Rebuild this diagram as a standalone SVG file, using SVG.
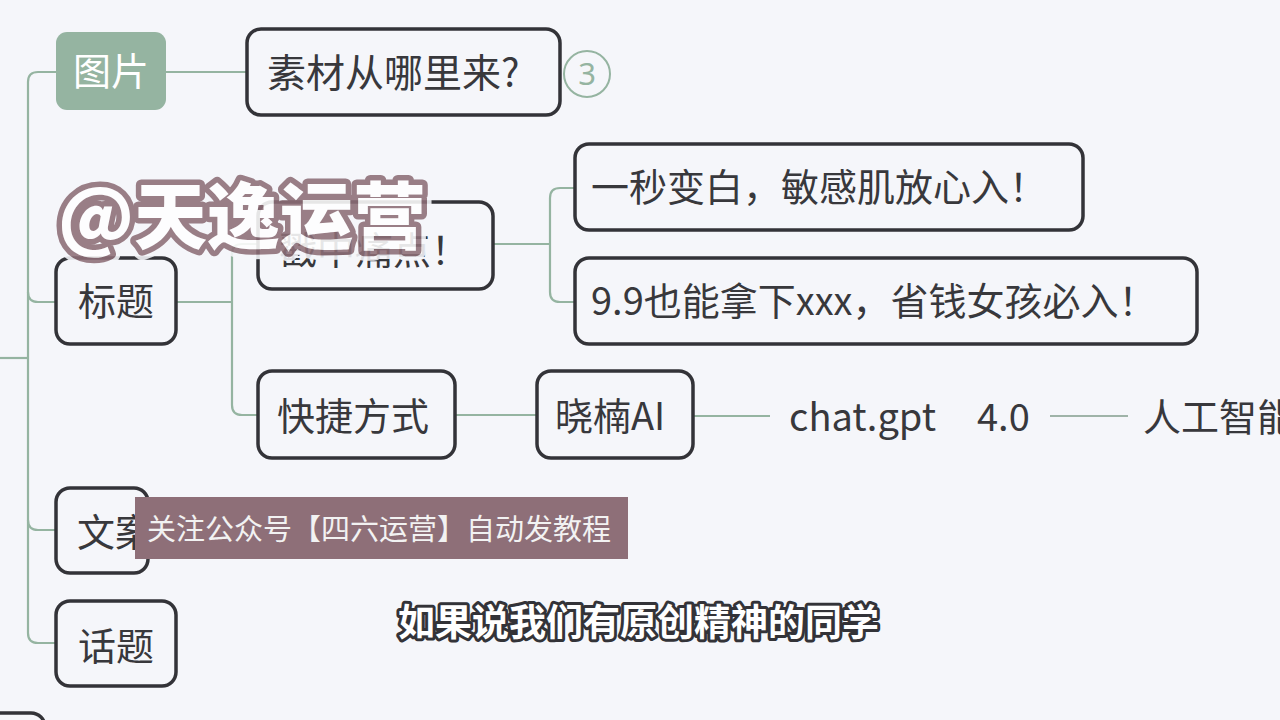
<svg xmlns="http://www.w3.org/2000/svg" width="1280" height="720" viewBox="0 0 1280 720">
<defs>
<style>
.bg{fill:#f5f6fa}
.box{fill:#f5f6fa;stroke:#333338;stroke-width:3.5}
.t{font-family:"Microsoft YaHei","Noto Sans CJK SC","Noto Sans",sans-serif;font-size:38px;fill:#38383c}
.con{fill:none;stroke:#95b4a1;stroke-width:2.2}
.wm{font-family:"Noto Sans CJK SC",sans-serif;font-weight:900;font-size:73px}
.sub{font-family:"Noto Sans CJK SC",sans-serif;font-weight:700;font-size:37px}
</style>
</defs>
<rect class="bg" x="0" y="0" width="1280" height="720"/>

<g id="connectors">
  <path class="con" d="M0 358 H28"/>
  <path class="con" d="M56 72 H38 Q28 72 28 82 V633 Q28 643 38 643 H56"/>
  <path class="con" d="M28 292 Q28 302 38 302 H56"/>
  <path class="con" d="M28 520 Q28 530 38 530 H56"/>
  <path class="con" d="M166 72 H247"/>
  <path class="con" d="M176 302 H232"/>
  <path class="con" d="M258 244 H242 Q232 244 232 254 V405 Q232 415 242 415 H258"/>
  <path class="con" d="M493 244 H550"/>
  <path class="con" d="M575 188 H560 Q550 188 550 198 V292 Q550 302 560 302 H575"/>
  <path class="con" d="M455 415 H537"/>
  <path class="con" d="M693 416 H770"/>
  <path class="con" d="M1050 416 H1128" style="stroke:#9fb3a8;stroke-width:1.8"/>
</g>

<g id="node-tupian">
  <rect x="56" y="32" width="110" height="78" rx="11" fill="#95b4a1"/>
  <text class="t" x="111" y="85" text-anchor="middle" style="fill:#ffffff">图片</text>
</g>
<g id="node-sucai">
  <rect class="box" x="247" y="29" width="313" height="86" rx="14"/>
  <text class="t" x="267" y="87" style="font-size:39px">素材从哪里来?</text>
</g>
<g id="node-badge">
  <circle cx="587" cy="74" r="23" fill="none" stroke="#95b4a1" stroke-width="2"/>
  <text x="587" y="85" text-anchor="middle" style="font-family:'Noto Sans','Liberation Sans',sans-serif;font-size:31px;fill:#95b4a1">3</text>
</g>
<g id="node-biaoti">
  <rect class="box" x="56" y="258" width="120" height="86" rx="14"/>
  <text class="t" x="116" y="315" text-anchor="middle">标题</text>
</g>
<g id="node-chuozhong">
  <rect class="box" x="258" y="202" width="235" height="87" rx="14"/>
  <text class="t" x="279" y="264">戳中痛点！</text>
</g>
<g id="node-yimiao">
  <rect class="box" x="575" y="144" width="508" height="86" rx="14"/>
  <text class="t" x="591" y="201">一秒变白，敏感肌放心入！</text>
</g>
<g id="node-99">
  <rect class="box" x="575" y="258" width="622" height="86" rx="14"/>
  <text class="t" x="591" y="315">9.9也能拿下xxx，省钱女孩必入！</text>
</g>
<g id="node-kuaijie">
  <rect class="box" x="258" y="371" width="197" height="87" rx="14"/>
  <text class="t" x="277" y="430">快捷方式</text>
</g>
<g id="node-xiaonan">
  <rect class="box" x="537" y="371" width="156" height="87" rx="14"/>
  <text class="t" x="555" y="430">晓楠AI</text>
</g>
<g id="node-chatgpt">
  <text class="t" x="789" y="431">chat.gpt</text>
  <text class="t" x="977" y="431">4.0</text>
</g>
<g id="node-rengong">
  <text class="t" x="1143" y="431">人工智能</text>
</g>
<g id="node-wenan">
  <rect class="box" x="56" y="488" width="92" height="85" rx="14"/>
  <text class="t" x="77" y="546">文案</text>
</g>
<g id="node-huati">
  <rect class="box" x="56" y="601" width="120" height="85" rx="14"/>
  <text class="t" x="116" y="660" text-anchor="middle">话题</text>
</g>
<g id="node-partial">
  <rect class="box" x="-80" y="713" width="125" height="80" rx="14"/>
</g>

<g id="watermark" opacity="0.88">
  <text class="wm" x="58" y="243" style="fill:none;stroke:#f5f6fa;stroke-width:20;stroke-linejoin:round">@天逸运营</text>
  <text class="wm" x="58" y="243" style="fill:#ffffff;stroke:#8d6e77;stroke-width:11;stroke-linejoin:round;paint-order:stroke">@天逸运营</text>
</g>

<g id="banner">
  <rect x="135" y="497" width="493" height="62" fill="#8e6f78"/>
  <text x="147" y="540" style="font-family:'Noto Sans CJK SC',sans-serif;font-size:29px;fill:#f2f2f2">关注公众号【四六运营】自动发教程</text>
</g>

<g id="subtitle">
  <text class="sub" x="398" y="636" style="fill:#ffffff;stroke:#333338;stroke-width:6;stroke-linejoin:round;paint-order:stroke">如果说我们有原创精神的同学</text>
</g>
</svg>
